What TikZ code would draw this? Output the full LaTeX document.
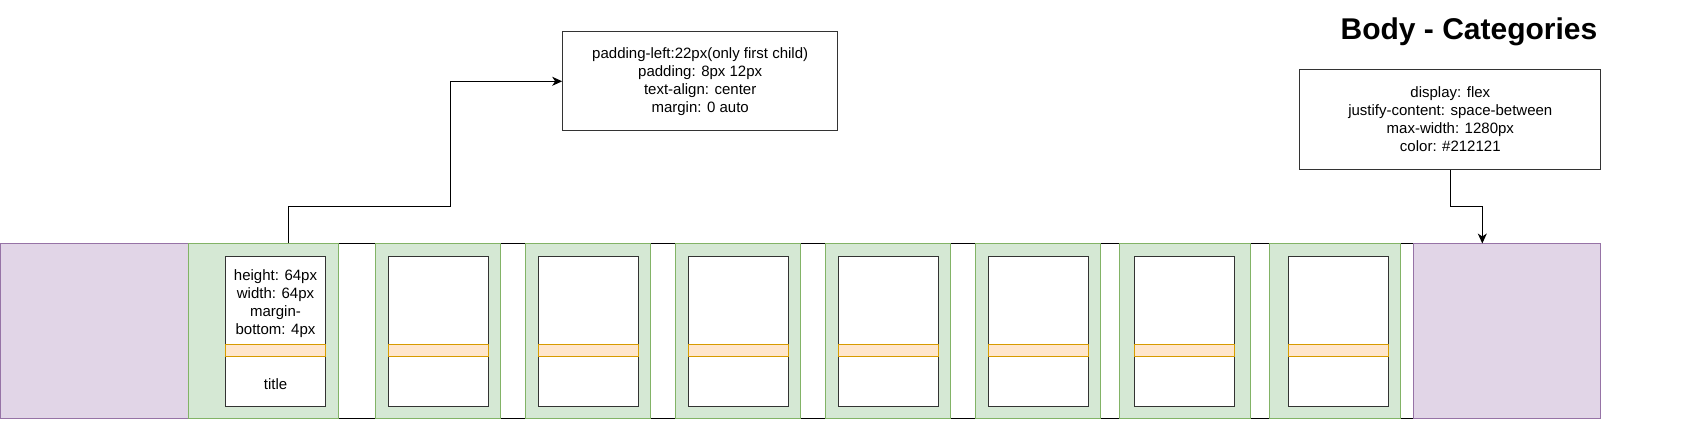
\documentclass[tikz,border=0pt]{standalone}
\usepackage{fontspec}
\setmainfont{Liberation Sans}
\usetikzlibrary{arrows.meta}
\definecolor{lilacfill}{HTML}{E1D5E7}
\definecolor{lilacline}{HTML}{9673A6}
\definecolor{leaffill}{HTML}{D5E8D4}
\definecolor{leafline}{HTML}{82B366}
\definecolor{peachfill}{HTML}{FFE6CC}
\definecolor{peachline}{HTML}{D79B00}

\begin{document}
\begin{tikzpicture}[x=1pt, y=-1pt, line width=1pt,
    every node/.style={inner sep=0pt, font=\fontsize{15}{18}\selectfont},
    side/.style={draw=lilacline, fill=lilacfill, minimum height=175pt},
    cell/.style={draw=leafline, fill=leaffill, minimum height=175pt},
    thumb/.style={draw=black!80, fill=white, minimum width=100pt, minimum height=150pt},
    bar/.style={draw=peachline, fill=peachfill, minimum width=100pt, minimum height=12.5pt},
    note/.style={draw=black!80, fill=white, align=center},
    conn/.style={-{Stealth[length=10pt, width=9pt, inset=3pt]}}]
  \useasboundingbox (0,0) rectangle (1698,435);

  \node[draw, fill=white, minimum width=1225.3pt, minimum height=175pt]
    (row) at (800.7, 331.5) {};

  \node[side, minimum width=187.5pt] (left) at (94.25, 331.5) {};
  \node[side, minimum width=187pt] (right) at (1506.8, 331.5) {};

  \foreach \i/\cx/\cw/\ix in {1/263/150/275.5, 2/438/125.4/438,
      3/588.2/125/588, 4/738/125.4/738, 5/888/125.4/888,
      6/1038.2/125/1038, 7/1184.9/131.7/1184.9, 8/1334.9/131.7/1338} {
    \node[cell, minimum width=\cw pt] (cell\i) at (\cx, 331.5) {};
    \node[thumb] (img\i) at (\ix, 331.7) {};
    \node[bar] (bar\i) at (\ix, 350.3) {};
  }

  \node[align=center] (spec) at (275.5, 304) {height: 64px\\width: 64px\\margin-\\bottom: 4px};
  \node (lbl) at (275.5, 384) {title};

  \node[note, minimum width=275pt, minimum height=99.3pt]
    (css1) at (700.2, 81.3) {padding-left:22px(only first child)\\padding: 8px 12px\\text-align: center\\margin: 0 auto};

  \node[note, minimum width=300.7pt, minimum height=100.3pt]
    (css2) at (1450.3, 119.2) {display: flex\\justify-content: space-between\\max-width: 1280px\\color: \#212121};

  \node[font=\fontsize{30}{36}\selectfont\bfseries]
    (head) at (1469, 32) {Body - Categories};

  \draw[conn] ([xshift=25.3pt]cell1.north) |- (450.7, 206.7) |- (css1.west);
  \draw[conn] (css2.south) |- ([xshift=-24.5pt, yshift=37.3pt]right.north)
    -- ([xshift=-24.5pt]right.north);
\end{tikzpicture}
\end{document}
